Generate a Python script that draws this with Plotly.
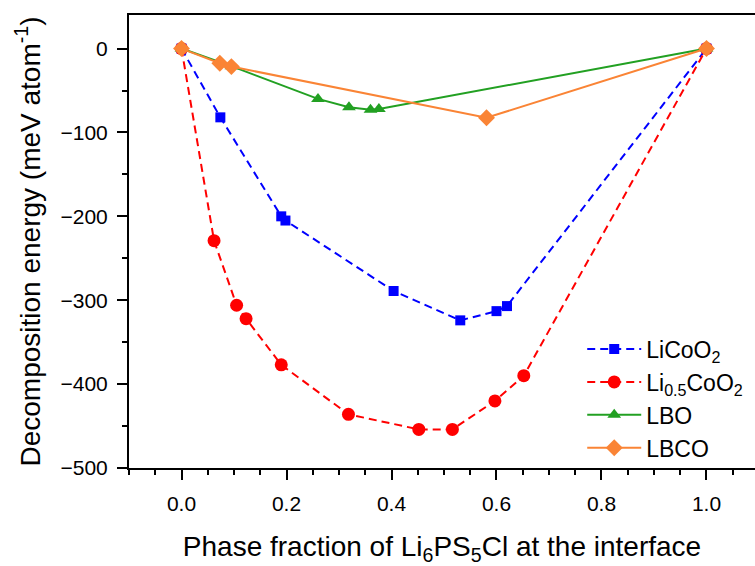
import plotly.graph_objects as go

# Data
licoo2_x = [0, 0.074, 0.19, 0.198, 0.404, 0.531, 0.600, 0.620, 1.0]
licoo2_y = [0, -82, -200, -205, -289, -324, -313, -307, 0]

li05_x = [0, 0.062, 0.105, 0.123, 0.190, 0.318, 0.452, 0.516, 0.597, 0.652, 1.0]
li05_y = [0, -229, -306, -322, -377, -436, -454, -454, -420, -390, 0]

lbo_x = [0, 0.095, 0.260, 0.319, 0.360, 0.376, 1.0]
lbo_y = [0, -21, -60, -70, -73, -72, 0]

lbco_x = [0, 0.073, 0.095, 0.581, 1.0]
lbco_y = [0, -17.5, -21.5, -82.5, 0]

names = ["LiCoO<sub>2</sub>", "Li<sub>0.5</sub>CoO<sub>2</sub>", "LBO", "LBCO"]

FONT = "Liberation Sans, Arial, sans-serif"

fig = go.Figure()
fig.add_trace(go.Scatter(
    x=licoo2_x, y=licoo2_y, name=names[0], mode="lines+markers",
    line=dict(color="#0000FF", width=2, dash="8px,5px"),
    marker=dict(symbol="square", size=10, color="#0000FF")))
fig.add_trace(go.Scatter(
    x=li05_x, y=li05_y, name=names[1], mode="lines+markers",
    line=dict(color="#FF0000", width=2, dash="8px,5px"),
    marker=dict(symbol="circle", size=13, color="#FF0000")))
fig.add_trace(go.Scatter(
    x=lbo_x, y=lbo_y, name=names[2], mode="lines+markers",
    line=dict(color="#22A022", width=2),
    marker=dict(symbol="triangle-up", size=12, color="#22A022")))
fig.add_trace(go.Scatter(
    x=lbco_x, y=lbco_y, name=names[3], mode="lines+markers",
    line=dict(color="#FA8435", width=2),
    marker=dict(symbol="diamond", size=13, color="#FA8435")))

fig.update_layout(
    width=755, height=566,
    margin=dict(l=129, r=0, t=15, b=98),
    paper_bgcolor="white", plot_bgcolor="white",
    font=dict(family=FONT, color="black", size=21),
    showlegend=True,
    legend=dict(x=0.724, y=0.31, xanchor="left", yanchor="top",
                bgcolor="rgba(0,0,0,0)", font=dict(size=23, family=FONT),
                tracegroupgap=0, itemwidth=54),
)

fig.update_xaxes(
    range=[-0.1, 1.0924], tickvals=[0, 0.2, 0.4, 0.6, 0.8, 1.0],
    ticktext=["0.0", "0.2", "0.4", "0.6", "0.8", "1.0"],
    ticks="outside", ticklen=10, tickwidth=1.5, tickcolor="black",
    ticklabelstandoff=6,
    minor=dict(dtick=0.05, tick0=0, ticks="outside", ticklen=5, tickwidth=1.5, tickcolor="black"),
    showline=True, linecolor="black", linewidth=2, mirror=True,
    showgrid=False, zeroline=False,
    tickfont=dict(size=21, family=FONT),
    title=dict(text="Phase fraction of Li<sub>6</sub>PS<sub>5</sub>Cl at the interface",
               font=dict(size=28, family=FONT), standoff=22),
)
fig.update_yaxes(
    range=[-500, 40], tickvals=[0, -100, -200, -300, -400, -500],
    ticks="outside", ticklen=10, tickwidth=1.5, tickcolor="black",
    ticklabelstandoff=5,
    minor=dict(dtick=50, tick0=0, ticks="outside", ticklen=5, tickwidth=1.5, tickcolor="black"),
    showline=True, linecolor="black", linewidth=2, mirror=False,
    showgrid=False, zeroline=False,
    tickfont=dict(size=21, family=FONT),
    title=dict(text="Decomposition energy (meV atom<sup>-1</sup>)",
               font=dict(size=28, family=FONT), standoff=12),
)

fig.write_html("out.html")
